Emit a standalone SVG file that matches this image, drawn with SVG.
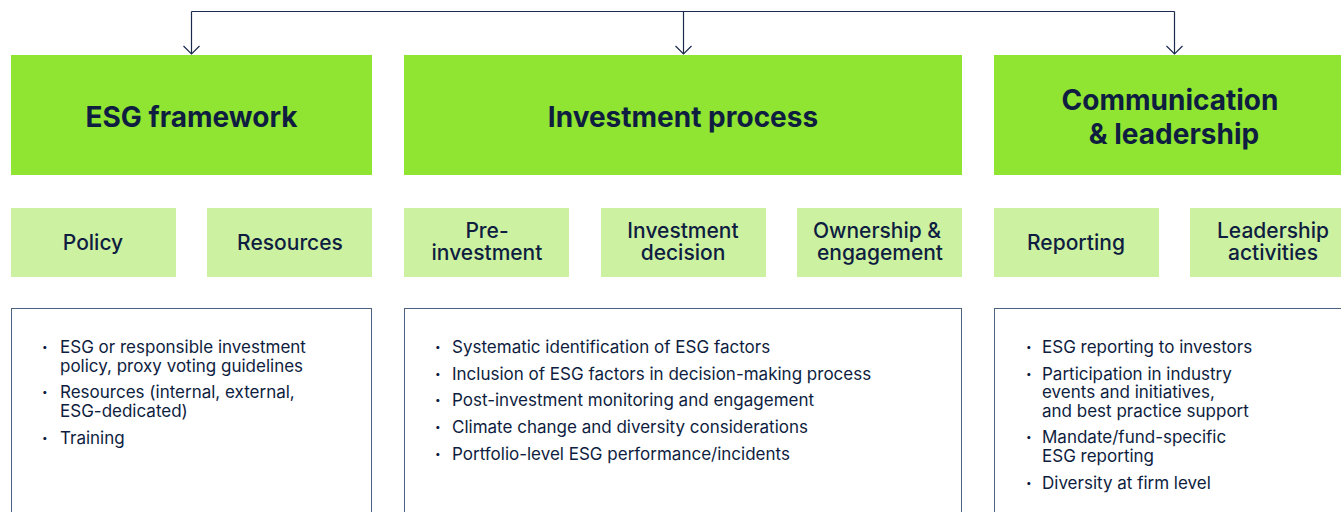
<svg xmlns="http://www.w3.org/2000/svg" width="1341" height="512" viewBox="0 0 1341 512">
<defs>
<style>
.main{fill:#8fe531}
.sub{fill:#ccf1a1}
.list{fill:#ffffff;stroke:#4d6180;stroke-width:1}
.t{font-family:Inter,"Liberation Sans",sans-serif;fill:#0e1d40}
.title{font-size:28px;font-weight:700;text-anchor:middle}
.lbl{font-size:21px;font-weight:500;text-anchor:middle}
.b{font-size:17px;font-weight:400}
.dot{font-size:10px}
.conn{fill:none;stroke:#1a2a4d;stroke-width:1.2}
</style>
<marker id="chev" viewBox="-10 -10 20 20" refX="0" refY="0" markerWidth="20" markerHeight="20" markerUnits="userSpaceOnUse" orient="auto">
<path d="M-8,-8 L0,0 L-8,8" fill="none" stroke="#1a2a4d" stroke-width="1.2"/>
</marker>
</defs>
<rect width="1341" height="512" fill="#ffffff"/>
<g id="connectors">
<path class="conn" d="M191.5,11.5 H1174.5"/>
<path class="conn" d="M191.5,11.5 V54" marker-end="url(#chev)"/>
<path class="conn" d="M683.5,11.5 V54" marker-end="url(#chev)"/>
<path class="conn" d="M1174.5,11.5 V54" marker-end="url(#chev)"/>
</g>
<g id="esg-framework">
<rect class="main" x="11" y="55" width="361" height="120"/>
<text class="t title" x="191.5" y="127">ESG framework</text>
</g>
<g id="investment-process">
<rect class="main" x="404" y="55" width="558" height="120"/>
<text class="t title" x="683" y="127">Investment process</text>
</g>
<g id="communication-leadership">
<rect class="main" x="994" y="55" width="347" height="120"/>
<text class="t title" x="1170" y="110">Communication</text>
<text class="t title" x="1174" y="144">&amp; leadership</text>
</g>
<g id="policy">
<rect class="sub" x="11" y="208" width="165" height="69"/>
<text class="t lbl" x="93" y="250">Policy</text>
</g>
<g id="resources">
<rect class="sub" x="207" y="208" width="165" height="69"/>
<text class="t lbl" x="290" y="250">Resources</text>
</g>
<g id="pre-investment">
<rect class="sub" x="404" y="208" width="165" height="69"/>
<text class="t lbl" x="487" y="238">Pre-</text>
<text class="t lbl" x="487" y="260">investment</text>
</g>
<g id="investment-decision">
<rect class="sub" x="601" y="208" width="165" height="69"/>
<text class="t lbl" x="683" y="238">Investment</text>
<text class="t lbl" x="683" y="260">decision</text>
</g>
<g id="ownership-engagement">
<rect class="sub" x="797" y="208" width="165" height="69"/>
<text class="t lbl" x="877" y="238">Ownership &amp;</text>
<text class="t lbl" x="880" y="260">engagement</text>
</g>
<g id="reporting">
<rect class="sub" x="994" y="208" width="165" height="69"/>
<text class="t lbl" x="1076" y="250">Reporting</text>
</g>
<g id="leadership-activities">
<rect class="sub" x="1190" y="208" width="160" height="69"/>
<text class="t lbl" x="1273" y="238">Leadership</text>
<text class="t lbl" x="1273" y="260">activities</text>
</g>
<g id="esg-framework-list">
<rect class="list" x="11.5" y="308.5" width="360" height="220"/>
<text class="t b dot" x="42" y="350">•</text>
<text class="t b" x="60" y="353">ESG or responsible investment</text>
<text class="t b" x="60" y="372">policy, proxy voting guidelines</text>
<text class="t b dot" x="42" y="395">•</text>
<text class="t b" x="60" y="398">Resources (internal, external,</text>
<text class="t b" x="60" y="417">ESG-dedicated)</text>
<text class="t b dot" x="42" y="441">•</text>
<text class="t b" x="60" y="444">Training</text>
</g>
<g id="investment-process-list">
<rect class="list" x="404.5" y="308.5" width="557" height="220"/>
<text class="t b dot" x="435" y="350">•</text>
<text class="t b" x="452" y="353">Systematic identification of ESG factors</text>
<text class="t b dot" x="435" y="377">•</text>
<text class="t b" x="452" y="380">Inclusion of ESG factors in decision-making process</text>
<text class="t b dot" x="435" y="403">•</text>
<text class="t b" x="452" y="406">Post-investment monitoring and engagement</text>
<text class="t b dot" x="435" y="430">•</text>
<text class="t b" x="452" y="433">Climate change and diversity considerations</text>
<text class="t b dot" x="435" y="457">•</text>
<text class="t b" x="452" y="460">Portfolio-level ESG performance/incidents</text>
</g>
<g id="communication-leadership-list">
<rect class="list" x="994.5" y="308.5" width="400" height="220"/>
<text class="t b dot" x="1026" y="350">•</text>
<text class="t b" x="1042" y="353">ESG reporting to investors</text>
<text class="t b dot" x="1026" y="377">•</text>
<text class="t b" x="1042" y="380">Participation in industry</text>
<text class="t b" x="1042" y="398">events and initiatives,</text>
<text class="t b" x="1042" y="417">and best practice support</text>
<text class="t b dot" x="1026" y="440">•</text>
<text class="t b" x="1042" y="443">Mandate/fund-specific</text>
<text class="t b" x="1042" y="462">ESG reporting</text>
<text class="t b dot" x="1026" y="486">•</text>
<text class="t b" x="1042" y="489">Diversity at firm level</text>
</g>
</svg>
